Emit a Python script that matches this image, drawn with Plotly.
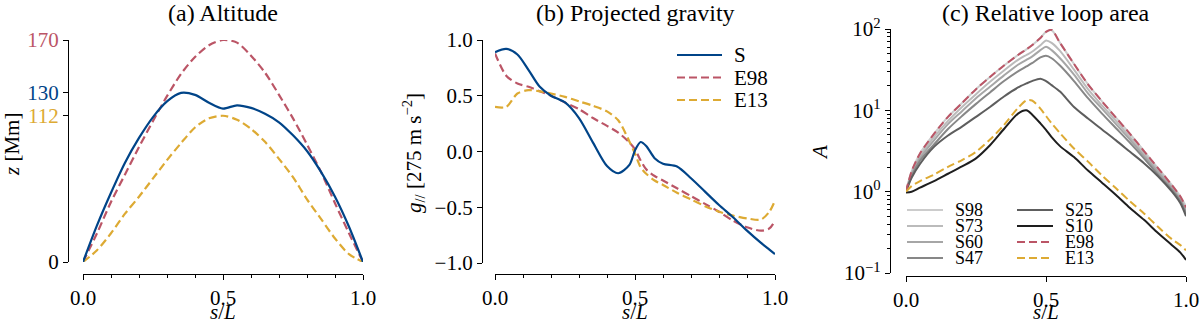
import plotly.graph_objects as go

FONT = "Liberation Serif"
BLUE, RED, YELLOW = "#004488", "#BB5566", "#DDAA33"
W, H = 1200, 325

# ---- (a) Altitude ----
s_a = [0, 0.05, 0.1, 0.15, 0.2, 0.25, 0.3, 0.35, 0.4, 0.45, 0.5,
       0.55, 0.6, 0.65, 0.7, 0.75, 0.8, 0.85, 0.9, 0.95, 1.0]
z_S = [0, 28, 53, 76, 95, 111, 123, 129.5, 128, 122, 117.5,
       120, 118, 113.5, 107, 97, 85, 69, 50, 27, 0]
z_E98 = [0, 22, 46, 67, 88, 108, 127, 144, 157, 166, 170,
         168, 158, 145, 128, 110, 90, 69, 45, 22, 0]
z_E13 = [0, 9, 22, 37, 50, 64, 78, 91, 103, 110, 112,
         109, 102, 92, 79, 65, 48, 33, 18, 6, 0]
z_ticks = [0, 112, 130, 170]
z_tick_colors = ["black", YELLOW, BLUE, RED]

# ---- (b) Projected gravity ----
s_b = [0, 0.04, 0.08, 0.12, 0.16, 0.2, 0.25, 0.3, 0.35, 0.4, 0.44, 0.48, 0.5,
       0.52, 0.54, 0.57, 0.6, 0.65, 0.7, 0.75, 0.8, 0.85, 0.9, 0.95, 0.98, 1.0]
g_S = [0.89, 0.92, 0.87, 0.73, 0.58, 0.50, 0.44, 0.30, 0.08, -0.13, -0.195, -0.12, 0.01,
       0.085, 0.05, -0.06, -0.11, -0.135, -0.24, -0.36, -0.48, -0.59, -0.71, -0.82, -0.88, -0.92]
g_E98 = [0.88, 0.68, 0.61, 0.58, 0.54, 0.50, 0.44, 0.38, 0.30, 0.23, 0.17, 0.08, 0.02,
         -0.08, -0.16, -0.22, -0.26, -0.33, -0.40, -0.47, -0.54, -0.62, -0.68, -0.71, -0.69, -0.62]
g_E13 = [0.40, 0.40, 0.52, 0.55, 0.54, 0.52, 0.49, 0.45, 0.41, 0.36, 0.28, 0.09, -0.02,
         -0.14, -0.20, -0.26, -0.30, -0.37, -0.43, -0.49, -0.54, -0.575, -0.60, -0.61, -0.54, -0.44]

# ---- (c) Relative loop area ----
s_c = [0, 0.02, 0.05, 0.1, 0.15, 0.2, 0.25, 0.3, 0.35, 0.4, 0.43, 0.45, 0.48,
       0.5, 0.52, 0.55, 0.6, 0.65, 0.7, 0.75, 0.8, 0.85, 0.9, 0.95, 0.98, 1.0]
A_S98 = [1.0, 1.78, 2.95, 5.13, 8.32, 12.3, 18.2, 25.7, 35.5, 47.9, 56.2, 63.1, 77.6,
         92, 96.5, 67.6, 37.2, 20.9, 12.9, 8.13, 5.13, 3.16, 1.95, 1.20, 0.87, 0.66]
A_S73 = [1.0, 1.70, 2.75, 4.68, 7.41, 11.0, 15.8, 22.4, 30.9, 41.7, 47.9, 52.5, 63.1,
         72.4, 67.6, 53.7, 31.6, 18.2, 11.5, 7.41, 4.68, 2.95, 1.86, 1.15, 0.83, 0.60]
A_S60 = [1.0, 1.62, 2.57, 4.27, 6.76, 9.77, 14.1, 19.5, 26.9, 36.3, 41.7, 45.7, 55.0,
         60.3, 55.0, 43.7, 27.5, 16.2, 10.5, 6.76, 4.37, 2.75, 1.74, 1.10, 0.79, 0.58]
A_S47 = [1.0, 1.55, 2.40, 3.80, 5.89, 8.51, 12.0, 16.6, 22.9, 30.2, 34.7, 38.0, 44.7,
         46.8, 43.7, 35.5, 22.9, 14.1, 9.12, 6.03, 3.98, 2.57, 1.62, 1.05, 0.76, 0.54]
A_S25 = [1.0, 1.48, 2.19, 3.55, 4.90, 6.31, 8.32, 11.0, 14.8, 19.1, 21.4, 22.9, 24.5,
         22.9, 20.4, 17.0, 11.0, 7.94, 5.82, 4.27, 3.09, 2.24, 1.55, 1.00, 0.72, 0.50]
A_S10 = [0.98, 1.0, 1.12, 1.35, 1.66, 2.04, 2.57, 3.72, 5.89, 9.12, 10.0, 8.91, 6.92,
         5.75, 4.68, 3.63, 2.66, 1.82, 1.29, 0.91, 0.63, 0.45, 0.31, 0.22, 0.178, 0.145]
A_E98 = [1.0, 1.78, 2.95, 5.13, 8.32, 12.3, 18.2, 25.7, 35.5, 47.9, 56.2, 63.1, 77.6,
         92, 97.5, 67.6, 37.2, 20.9, 12.9, 8.13, 5.13, 3.16, 1.95, 1.20, 0.87, 0.64]
A_E13 = [1.0, 1.17, 1.35, 1.62, 2.02, 2.45, 3.09, 4.37, 6.61, 10.7, 13.2, 13.2, 10.5,
         8.51, 6.92, 5.25, 3.39, 2.34, 1.58, 1.10, 0.76, 0.54, 0.37, 0.26, 0.22, 0.19]

c_series = [("S98", A_S98, "#cccccc", "solid"), ("S73", A_S73, "#bbbbbb", "solid"),
            ("S60", A_S60, "#a6a6a6", "solid"), ("S47", A_S47, "#878787", "solid"),
            ("S25", A_S25, "#5e5e5e", "solid"), ("S10", A_S10, "#1e1e1e", "solid"),
            ("E98", A_E98, RED, "8px,4px"), ("E13", A_E13, YELLOW, "8px,4px")]


# positions below are given in window pixels
def fx(p):
    return p / W


def fy(p):
    return 1 - p / H


fig = go.Figure()


def line(x, y, color, dash, xa, ya, width=2.2, name=None):
    fig.add_trace(go.Scatter(x=x, y=y, mode="lines", name=name, xaxis=xa, yaxis=ya,
                             line=dict(color=color, width=width, dash=dash,
                                       shape="spline", smoothing=0.8),
                             showlegend=False, hoverinfo="skip"))


DASH = "8px,4px"
line(s_a, z_E98, RED, DASH, "x", "y")
line(s_a, z_E13, YELLOW, DASH, "x", "y")
line(s_a, z_S, BLUE, "solid", "x", "y")

line(s_b, g_E98, RED, DASH, "x2", "y2")
line(s_b, g_E13, YELLOW, DASH, "x2", "y2")
line(s_b, g_S, BLUE, "solid", "x2", "y2")

for name, A, col, dash in c_series:
    line(s_c, A, col, dash, "x3", "y3", width=2.0, name=name)

tick_font = dict(family=FONT, size=21, color="black")
ax = dict(showline=True, linecolor="black", linewidth=1.3, ticks="outside", ticklen=5,
          tickwidth=1.3, tickcolor="black", showgrid=False, zeroline=False,
          automargin=False, tickfont=tick_font, anchor="free")
xminor = dict(ticks="outside", ticklen=3, tickwidth=1.1, tickcolor="black",
              dtick=0.1, tick0=0, showgrid=False)
xticks = dict(tickvals=[0, 0.5, 1.0], ticktext=["0.0", "0.5", "1.0"], range=[0, 1])

z_ticktext = [f'<span style="color:{c}">{v}</span>' for v, c in zip(z_ticks, z_tick_colors)]

log_minor = [m * 10 ** e for e in (-1, 0, 1) for m in range(2, 10)]

fig.update_layout(
    width=W, height=H, margin=dict(l=0, r=0, t=0, b=0),
    font=dict(family=FONT, color="black"),
    plot_bgcolor="white", paper_bgcolor="white", showlegend=False,
    xaxis=dict(ax, domain=[fx(83), fx(363)], position=fy(274), minor=xminor, **xticks),
    yaxis=dict(ax, domain=[fy(262), fy(40)], position=fx(68), range=[0, 170],
               tickvals=z_ticks, ticktext=z_ticktext),
    xaxis2=dict(ax, domain=[fx(495), fx(775)], position=fy(274), minor=xminor, **xticks),
    yaxis2=dict(ax, domain=[fy(263), fy(40)], position=fx(482), range=[-1, 1],
                tick0=0, dtick=0.5, tickformat=".1f"),
    xaxis3=dict(ax, domain=[fx(906), fx(1186)], position=fy(276), **xticks),
    yaxis3=dict(ax, domain=[fy(273), fy(29)], position=fx(890), type="log", range=[-1, 2],
                tickvals=[0.1, 1, 10, 100],
                ticktext=["10<sup>−1</sup>", "10<sup>0</sup>", "10<sup>1</sup>", "10<sup>2</sup>"],
                minor=dict(ticks="outside", ticklen=3, tickwidth=1.1, tickcolor="black",
                           tickvals=log_minor, showgrid=False)),
)

ann = []


def text(x, y, t, size=21, angle=0, xanchor="center"):
    ann.append(dict(x=fx(x), y=fy(y), xref="paper", yref="paper", text=t, showarrow=False,
                    xanchor=xanchor, yanchor="middle", textangle=angle,
                    font=dict(family=FONT, size=size, color="black")))


# panel titles
text(223, 13, "(a) Altitude", size=24)
text(635, 13, "(b) Projected gravity", size=24)
text(1046, 13, "(c) Relative loop area", size=24)
# axis titles
for cx in (223, 635, 1046):
    text(cx, 312, "<i>s</i>/<i>L</i>")
text(12, 145, "<i>z</i> [Mm]", angle=-90)
text(413, 153, "<i>g</i><sub>//</sub> [275 m s<sup>−2</sup>]", angle=-90)
text(820, 153, "<i>A</i>", angle=-90)

shapes = []


def key(x0, x1, y, color, dash, tx, label, size, width=2.2):
    shapes.append(dict(type="line", xref="paper", yref="paper", x0=fx(x0), x1=fx(x1),
                       y0=fy(y), y1=fy(y), line=dict(color=color, width=width, dash=dash)))
    text(tx, y, label, size=size, xanchor="left")


# legend (b)
for i, (lab, col, dash) in enumerate([("S", BLUE, "solid"), ("E98", RED, DASH),
                                      ("E13", YELLOW, DASH)]):
    key(677, 722, 55 + 22.5 * i, col, dash, 732, lab, 21)

# legend (c), two columns
for i, (lab, A, col, dash) in enumerate(c_series):
    colx = 0 if i < 4 else 1
    row = i % 4
    x0 = 907 if colx == 0 else 1017
    key(x0, x0 + 36, 210 + 16 * row, col, dash, x0 + 46, lab, 18, width=2.0)

fig.update_layout(annotations=ann, shapes=shapes)
# drop the page's default 8 px body margin so the figure fills the window
fig.write_html("out.html", config={"displayModeBar": False},
               post_script="document.body.style.margin = '0px';")
